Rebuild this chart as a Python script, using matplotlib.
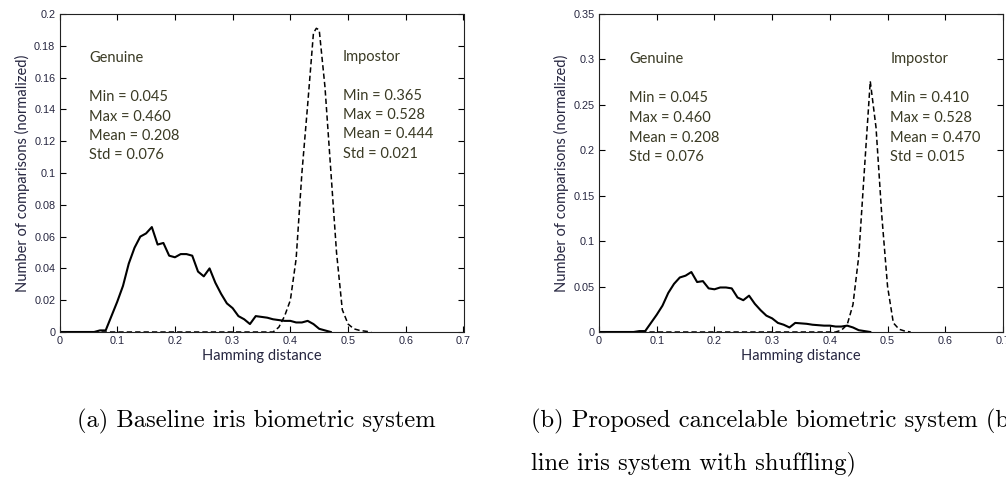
import matplotlib
matplotlib.use('Agg')
import matplotlib.pyplot as plt

# --- Data ---
genuine_x = [i / 100 for i in range(0, 48)]
genuine_y = [0, 0, 0, 0, 0, 0, 0, 0.001, 0.001, 0.010,
             0.019, 0.029, 0.043, 0.053, 0.060, 0.062, 0.066, 0.055, 0.056, 0.048,
             0.047, 0.049, 0.049, 0.048, 0.038, 0.035, 0.040, 0.031, 0.024, 0.018,
             0.015, 0.010, 0.008, 0.005, 0.010, 0.0095, 0.009, 0.008, 0.0075, 0.007,
             0.007, 0.006, 0.006, 0.007, 0.005, 0.002, 0.001, 0]

imp_a_x = [0, 0.37, 0.38, 0.39, 0.40, 0.41, 0.42, 0.43, 0.44, 0.445, 0.45,
           0.46, 0.47, 0.48, 0.49, 0.50, 0.51, 0.52, 0.53, 0.54]
imp_a_y = [0, 0, 0.003, 0.010, 0.020, 0.046, 0.100, 0.143, 0.188, 0.191, 0.190,
           0.154, 0.102, 0.050, 0.014, 0.005, 0.002, 0.001, 0.0005, 0]

imp_b_x = [0, 0.41, 0.42, 0.43, 0.44, 0.45, 0.46, 0.47, 0.48, 0.49,
           0.50, 0.51, 0.52, 0.53, 0.54]
imp_b_y = [0, 0, 0.002, 0.008, 0.030, 0.083, 0.180, 0.276, 0.225, 0.128,
           0.050, 0.010, 0.003, 0.001, 0]

gen_stats = ['Min = 0.045', 'Max = 0.460', 'Mean = 0.208', 'Std = 0.076']
imp_a_stats = ['Min = 0.365', 'Max = 0.528', 'Mean = 0.444', 'Std = 0.021']
imp_b_stats = ['Min = 0.410', 'Max = 0.528', 'Mean = 0.470', 'Std = 0.015']

xticks = [0, 0.1, 0.2, 0.3, 0.4, 0.5, 0.6, 0.7]
yticks_a = [0, 0.02, 0.04, 0.06, 0.08, 0.1, 0.12, 0.14, 0.16, 0.18, 0.2]
yticks_b = [0, 0.05, 0.1, 0.15, 0.2, 0.25, 0.3, 0.35]

caption_a = '(a) Baseline iris biometric system'
caption_b1 = '(b) Proposed cancelable biometric system (base-'
caption_b2 = 'line iris system with shuffling)'

txt_col = '#3a3a24'
tick_col = '#262640'
txt_font = 'Lato'


def fmt(v):
    return '0' if v == 0 else ('%g' % v)


def setup_axes(ax, yticks, ymax):
    ax.set_xlim(0, 0.7)
    ax.set_ylim(0, ymax)
    ax.set_xticks(xticks)
    ax.set_xticklabels([fmt(v) for v in xticks])
    ax.set_yticks(yticks)
    ax.set_yticklabels([fmt(v) for v in yticks])
    ax.tick_params(direction='in', length=4, width=0.8, top=True, right=True,
                   labelsize=7.8, labelcolor=tick_col, pad=3)
    for lab in ax.get_xticklabels() + ax.get_yticklabels():
        lab.set_family('Liberation Sans')
    for s in ax.spines.values():
        s.set_linewidth(0.8)
        s.set_color('#222222')
    ax.set_xlabel('Hamming distance', family=txt_font, fontsize=10.5,
                  color=tick_col, labelpad=2)
    ax.set_ylabel('Number of comparisons (normalized)', family=txt_font,
                  fontsize=10.5, color=tick_col, labelpad=3)


def put_text(ax, x, ys, title, stats):
    ax.text(x, ys[0], title, family=txt_font, fontsize=10.5, color=txt_col, va='center')
    for y, s in zip(ys[1:], stats):
        ax.text(x, y, s, family=txt_font, fontsize=10.5, color=txt_col, va='center')


fig = plt.figure(figsize=(10.06, 4.8), dpi=100)

# axes positions in figure fractions (pixel coords from reference)
W, H = 1006.0, 480.0
ax1 = fig.add_axes([59.5 / W, 1 - 332 / H, (463.5 - 59.5) / W, (332 - 14) / H])
ax2 = fig.add_axes([599 / W, 1 - 332 / H, (1003 - 599) / W, (332 - 14) / H])

# --- Panel (a) ---
ax1.plot(genuine_x, genuine_y, '-', color='black', lw=1.5)
ax1.plot(imp_a_x, imp_a_y, '--', color='black', lw=1.1, dashes=(3.5, 2))
setup_axes(ax1, yticks_a, 0.2)
put_text(ax1, 0.051, [0.1723, 0.148, 0.1354, 0.1233, 0.1111], 'Genuine', gen_stats)
put_text(ax1, 0.491, [0.1731, 0.1486, 0.1365, 0.1243, 0.1121], 'Impostor', imp_a_stats)

# --- Panel (b) ---
ax2.plot(genuine_x, genuine_y, '-', color='black', lw=1.5)
ax2.plot(imp_b_x, imp_b_y, '--', color='black', lw=1.1, dashes=(3.5, 2))
setup_axes(ax2, yticks_b, 0.35)
put_text(ax2, 0.0525, [0.301, 0.2574, 0.2357, 0.214, 0.1923], 'Genuine', gen_stats)
put_text(ax2, 0.505, [0.301, 0.2574, 0.2357, 0.214, 0.1923], 'Impostor', imp_b_stats)

# --- Captions ---
fig.text(77 / W, 1 - 421 / H, caption_a, family='cmr10', fontsize=17.7, va='center')
fig.text(531 / W, 1 - 421 / H, caption_b1, family='cmr10', fontsize=17.7, va='center')
fig.text(531 / W, 1 - 464 / H, caption_b2, family='cmr10', fontsize=17.7, va='center')

fig.savefig('out.png', dpi=100)
